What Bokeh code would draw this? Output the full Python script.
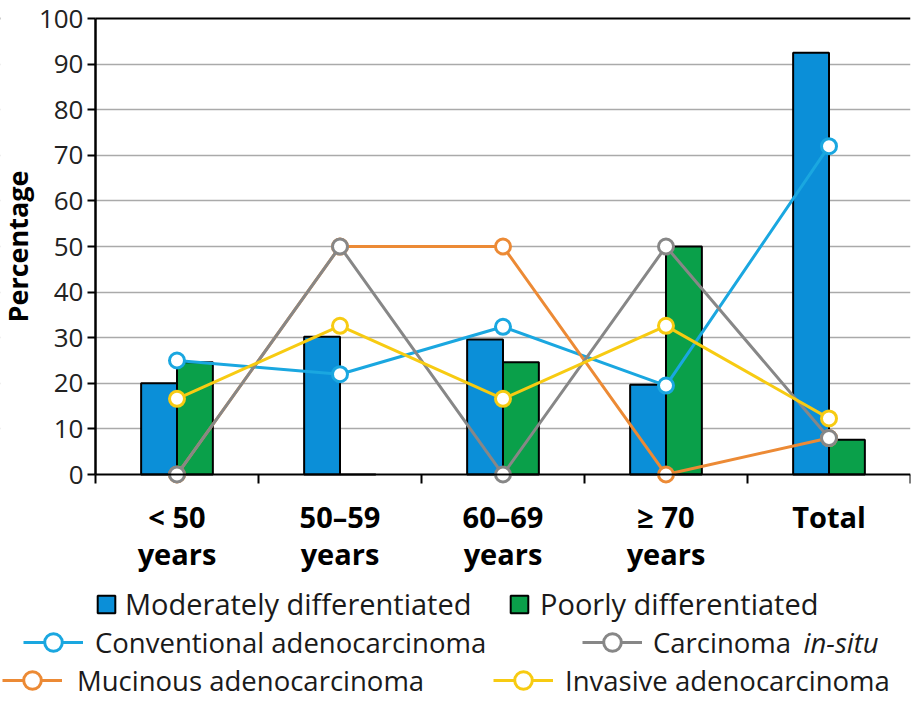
from bokeh.plotting import figure
from bokeh.models import (ColumnDataSource, FixedTicker, Grid, Legend, LegendItem,
                          Label, Range1d, BoxAnnotation)
from bokeh.transform import dodge
from bokeh.embed import file_html
from bokeh.resources import INLINE

# ---------------- data ----------------
categories = ["< 50\nyears", "50\u201359\nyears", "60\u201369\nyears", "\u2265 70\nyears", "Total"]
moderately = [20, 30.2, 29.6, 19.7, 92.5]
poorly = [24.6, 0, 24.6, 50, 7.6]
conventional = [25, 22, 32.4, 19.5, 72]
mucinous = [0, 50, 50, 0, 8]
in_situ = [0, 50, 0, 50, 8]
invasive = [16.6, 32.6, 16.6, 32.6, 12.3]
y_ticks = [0, 10, 20, 30, 40, 50, 60, 70, 80, 90, 100]

# ---------------- layout / style ----------------
W, H = 912, 700
X_MIN = -0.5828        # room left of the y axis (axis drawn inside the frame)
Y_MIN = -49.56         # room under the x axis for category labels and legend
Y_MAX = 103.95         # room above 100 for the top tick label
FONT = "Open Sans"
C_BAR_BLUE = "#0B8FD8"
C_BAR_GREEN = "#0AA04A"
C_CONV = "#1AA7E0"
C_MUC = "#EC8A35"
C_INSITU = "#878787"
C_INV = "#F7CB12"
BAR_LEG_SIZE = "29px"
LINE_LEG_SIZE = "27.5px"
TXT = "#1a1a1a"

n = len(categories)
x_pos = [i + 0.5 for i in range(n)]
src = ColumnDataSource(dict(x=x_pos, mod=moderately, poor=poorly, conv=conventional,
                            muc=mucinous, insitu=in_situ, inv=invasive))

p = figure(width=W, height=H, x_range=Range1d(X_MIN, n),
           y_range=Range1d(Y_MIN, Y_MAX), output_backend="svg", toolbar_location=None,
           min_border_left=0, min_border_right=2, min_border_top=0,
           min_border_bottom=0)
p.outline_line_color = None
p.xgrid.visible = False
p.ygrid[0].ticker = FixedTicker(ticks=y_ticks[1:-1])
p.ygrid.grid_line_color = "#AAAAAA"
p.ygrid.grid_line_width = 1.5
p.add_layout(Grid(dimension=1, ticker=FixedTicker(ticks=[y_ticks[-1]]),
                  grid_line_color="black", grid_line_width=2))
# blank out grid lines left of the y axis
p.add_layout(BoxAnnotation(left=X_MIN, right=0, bottom=-1, top=101, fill_color="white",
                           fill_alpha=1, line_color=None, level="underlay"))

# y axis drawn at x = 0
ya = p.yaxis[0]
ya.fixed_location = 0
ya.ticker = FixedTicker(ticks=y_ticks)
ya.bounds = (0, 100)
ya.axis_line_width = 2.5
ya.axis_line_color = "black"
ya.major_tick_out = 8
ya.major_tick_in = 0
ya.major_tick_line_width = 2
ya.minor_tick_line_color = None
ya.major_label_text_font = FONT
ya.major_label_text_font_size = "26px"
ya.major_label_text_color = "#222222"
ya.major_label_standoff = 4
ya.axis_label = "Percentage"
ya.axis_label_text_font = FONT
ya.axis_label_text_font_style = "bold"
ya.axis_label_text_font_size = "27px"
ya.axis_label_text_color = "black"
ya.axis_label_standoff = 0

# x axis drawn at y = 0
xa = p.xaxis[0]
xa.fixed_location = 0
xa.bounds = (0, n)
xa.ticker = FixedTicker(ticks=x_pos, minor_ticks=list(range(n + 1)))
xa.major_label_overrides = {x: c for x, c in zip(x_pos, categories)}
xa.axis_line_width = 2
xa.axis_line_color = "black"
xa.major_tick_out = 0
xa.major_tick_in = 0
xa.minor_tick_out = 9
xa.minor_tick_in = 0
xa.minor_tick_line_width = 2
xa.minor_tick_line_color = "black"
xa.major_label_text_font = FONT
xa.major_label_text_font_style = "bold"
xa.major_label_text_font_size = "29px"
xa.major_label_text_line_height = 0.95
xa.major_label_text_color = "black"
xa.major_label_standoff = 13

# bars
bar_mod = p.vbar(x=dodge("x", -0.11, range=p.x_range), top="mod", width=0.22, source=src,
                 fill_color=C_BAR_BLUE, line_color="black", line_width=2)
bar_poor = p.vbar(x=dodge("x", 0.11, range=p.x_range), top="poor", width=0.22, source=src,
                  fill_color=C_BAR_GREEN, line_color="black", line_width=2)

# lines
def series(col, color):
    l = p.line("x", col, source=src, line_color=color, line_width=3)
    s = p.scatter("x", col, source=src, marker="circle", size=15, fill_color="white",
                  line_color=color, line_width=3)
    return [l, s]

r_conv = series("conv", C_CONV)
r_muc = series("muc", C_MUC)
r_insitu = series("insitu", C_INSITU)
r_inv = series("inv", C_INV)

# one legend per entry; location = bottom-left of box in frame px (y up from bottom)
def add_legend(label, renderers, page_x, page_cy, gw, gh, standoff, size):
    lg = Legend(items=[LegendItem(label=label, renderers=renderers)],
                location=(page_x, H - page_cy - gh / 2), orientation="horizontal",
                padding=0, margin=0, border_line_color=None, background_fill_alpha=0,
                glyph_width=gw, glyph_height=gh, label_standoff=standoff,
                label_text_font=FONT, label_text_font_size=size,
                label_text_color=TXT, label_height=gh, spacing=0)
    p.add_layout(lg, "center")
    return lg

add_legend("Moderately differentiated", [bar_mod], 95, 612, 22, 22, 8, BAR_LEG_SIZE)
add_legend("Poorly differentiated", [bar_poor], 508, 612, 22, 22, 10, BAR_LEG_SIZE)
add_legend("Conventional adenocarcinoma", r_conv, 23, 642, 60, 44, 12, LINE_LEG_SIZE)
add_legend("Carcinoma", r_insitu, 582, 642, 60, 44, 11, LINE_LEG_SIZE)
add_legend("Mucinous adenocarcinoma", r_muc, 2, 680, 60, 44, 15, LINE_LEG_SIZE)
add_legend("Invasive adenocarcinoma", r_inv, 493, 680, 60, 44, 12, LINE_LEG_SIZE)

p.add_layout(Label(x=803, y=H - 642, x_units="screen", y_units="screen",
                   text="in-situ", text_font=FONT, text_font_style="italic",
                   text_font_size=LINE_LEG_SIZE, text_color=TXT, text_baseline="middle"))

open("out.html", "w").write(file_html(p, INLINE))
